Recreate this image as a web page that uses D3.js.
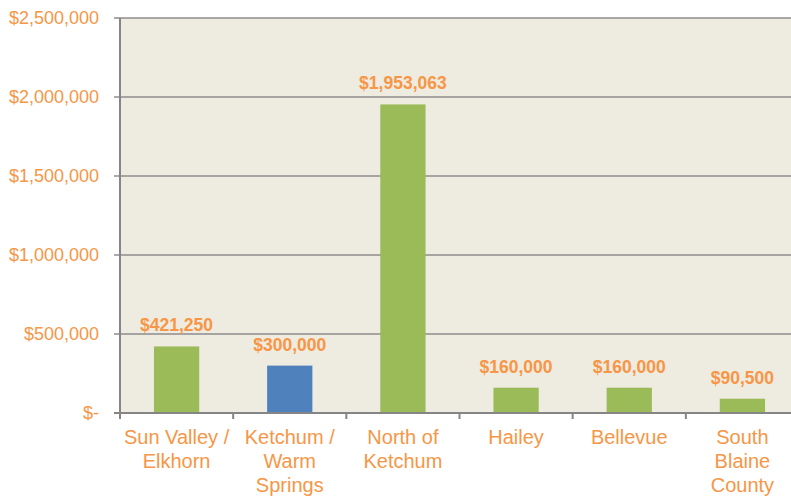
<!DOCTYPE html>
<html>
<head>
<meta charset="utf-8">
<style>
  body { margin: 0; background: #fff; overflow: hidden; }
  svg { display: block; font-family: "Liberation Sans", Arial, sans-serif; }
</style>
</head>
<body>
<svg id="chart" width="791" height="497"></svg>
<script src="https://d3js.org/d3.v7.min.js"></script>
<script>
var categories = [["Sun Valley /", "Elkhorn"], ["Ketchum /", "Warm", "Springs"], ["North of", "Ketchum"], ["Hailey"], ["Bellevue"], ["South", "Blaine", "County"]]
var values = [421250, 300000, 1953063, 160000, 160000, 90500]
var highlight = [false, true, false, false, false, false]
var yTicks = [0, 500000, 1000000, 1500000, 2000000, 2500000]

var orange = "#F79646"
var svg = d3.select("#chart")
var margin = {left: 120, top: 18, bottom: 413},
    right = 799

var x = d3.scaleBand()
    .domain(d3.range(categories.length))
    .range([margin.left, right])
    .paddingInner(0.6)
    .paddingOuter(0.3)

var y = d3.scaleLinear()
    .domain([0, 2500000])
    .range([margin.bottom, margin.top])

// plot background
svg.append("rect")
    .attr("x", margin.left).attr("y", margin.top)
    .attr("width", right - margin.left).attr("height", margin.bottom - margin.top)
    .attr("fill", "#EEEBE0")

// gridlines
svg.selectAll(".grid")
    .data(yTicks.slice(1))
    .enter().append("line")
    .attr("x1", margin.left - 6).attr("x2", right)
    .attr("y1", function(d) { return y(d) }).attr("y2", function(d) { return y(d) })
    .attr("stroke", "#8C8C8C").attr("stroke-width", 1.5)

var fmt = d3.format(",")
svg.selectAll(".ylab")
    .data(yTicks)
    .enter().append("text")
    .attr("x", 99)
    .attr("y", function(d) { return y(d) })
    .attr("dy", "0.35em")
    .attr("text-anchor", "end")
    .attr("fill", orange)
    .style("font-size", "18px")
    .text(function(d) { return d === 0 ? "$-" : "$" + fmt(d) })

// bars
svg.selectAll(".bar")
    .data(values)
    .enter().append("rect")
    .attr("x", function(d, i) { return x(i) })
    .attr("width", x.bandwidth())
    .attr("y", function(d) { return y(d) })
    .attr("height", function(d) { return y(0) - y(d) })
    .attr("fill", function(d, i) { return highlight[i] ? "#4F81BD" : "#9BBB59" })

// value labels
svg.selectAll(".val")
    .data(values)
    .enter().append("text")
    .attr("x", function(d, i) { return x(i) + x.bandwidth() / 2 })
    .attr("y", function(d) { return y(d) - 15 })
    .attr("text-anchor", "middle")
    .attr("fill", orange)
    .style("font-size", "17.5px").style("font-weight", "bold")
    .text(function(d) { return "$" + fmt(d) })

// axes lines
svg.append("line")
    .attr("x1", margin.left).attr("x2", margin.left)
    .attr("y1", margin.top).attr("y2", margin.bottom + 6)
    .attr("stroke", "#858585").attr("stroke-width", 2)
svg.append("line")
    .attr("x1", margin.left - 6).attr("x2", right)
    .attr("y1", y(0)).attr("y2", y(0))
    .attr("stroke", "#858585").attr("stroke-width", 2)

var step = x.step()
svg.selectAll(".xtick")
    .data(d3.range(categories.length + 1))
    .enter().append("line")
    .attr("x1", function(d) { return margin.left + d * step })
    .attr("x2", function(d) { return margin.left + d * step })
    .attr("y1", y(0)).attr("y2", y(0) + 6)
    .attr("stroke", "#858585").attr("stroke-width", 2)

// category labels
var cat = svg.selectAll(".cat")
    .data(categories)
    .enter().append("text")
    .attr("text-anchor", "middle")
    .attr("fill", orange)
    .style("font-size", "20px")
cat.selectAll("tspan")
    .data(function(d, i) { return d.map(function(s) { return {s: s, i: i} }) })
    .enter().append("tspan")
    .attr("x", function(d) { return x(d.i) + x.bandwidth() / 2 })
    .attr("y", function(d, j) { return 444 + j * 24 })
    .text(function(d) { return d.s })
</script>
</body>
</html>
